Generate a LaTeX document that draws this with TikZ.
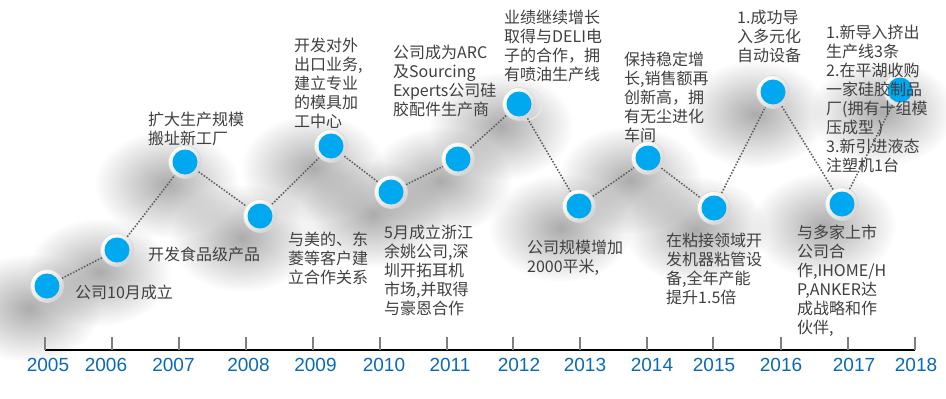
\documentclass[tikz,border=0pt]{standalone}
\usepackage{fontspec}
\newfontfamily\cjk{Noto Sans CJK SC}
\newfontfamily\yearfont{Liberation Sans}
\usetikzlibrary{fadings,calc}
\definecolor{dotc}{RGB}{90,90,90}
\definecolor{ballblue}{RGB}{0,168,240}
\definecolor{yearblue}{RGB}{10,105,185}
\definecolor{txt}{RGB}{64,64,64}
\definecolor{tickc}{RGB}{128,128,128}
\tikzfading[name=shfade, inner color=transparent!50, outer color=transparent!100]
\tikzset{
  ball/.style={circle, minimum size=33pt, inner sep=0pt, draw=gray!30, line width=0.6pt,
    top color=white, bottom color=gray!35, shading angle=45,
    path picture={\fill[ballblue] (path picture bounding box.center) circle[radius=12.5pt];}},
  dotline/.style={draw=dotc, line width=1.5pt, dash pattern=on 1.5pt off 1.6pt},
  lbl/.style={anchor=north west, inner sep=0pt, align=left, text=txt,
    font=\cjk\fontsize{16pt}{19pt}\selectfont},
  yr/.style={inner sep=0pt, text=yearblue, font=\yearfont\fontsize{19pt}{19pt}\selectfont},
  tickmark/.style={draw=tickc, line width=2pt},
  axisline/.style={draw=black, line width=1.2pt},
  ghost/.style={draw=gray!18, line width=1.2pt}
}
\begin{document}
\begin{tikzpicture}[x=1pt,y=-1pt]
\fill[white] (0,0) rectangle (946,399);
\useasboundingbox (0,0) rectangle (946,399);
% centres
\coordinate (p1) at (47,286);
\coordinate (p2) at (117,250);
\coordinate (p3) at (185,162);
\coordinate (p4) at (260,216);
\coordinate (p5) at (331,146);
\coordinate (p6) at (391,192);
\coordinate (p7) at (458,159);
\coordinate (p8) at (519,104);
\coordinate (p9) at (579,206);
\coordinate (p10) at (648,158);
\coordinate (p11) at (714,208);
\coordinate (p12) at (773,92);
\coordinate (p13) at (842,204);
\coordinate (p14) at (900,90);
% shadows
\foreach \i in {1,...,14}{
  \fill[black!65, path fading=shfade] ($(p\i)+(-18,22)$) ellipse [x radius=72, y radius=54];
}
% ghost ring beside the 2012 ball
\draw[ghost] ($(p8)+(7,0)$) circle (16);
% balls
\foreach \i in {1,...,14}{
  \node[ball] (c\i) at (p\i) {};
}
% connectors
\draw[dotline] (c1) -- (c2);
\draw[dotline] (c2) -- (c3);
\draw[dotline] (c3) -- (c4);
\draw[dotline] (c4) -- (c5);
\draw[dotline] (c5) -- (c6);
\draw[dotline] (c6) -- (c7);
\draw[dotline] (c7) -- (c8);
\draw[dotline] (c8) -- (c9);
\draw[dotline] (c9) -- (c10);
\draw[dotline] (c10) -- (c11);
\draw[dotline] (c11) -- (c12);
\draw[dotline] (c12) -- (c13);
\draw[dotline] (c13) -- (c14);
% axis
\draw[axisline] (45,350) -- (915,350);
\foreach \x in {45,112,179,246,313,380,447,513,580,647,713,781,848,915}{
  \draw[tickmark] (\x,337) -- (\x,350);
}
\node[yr] (y2005) at (48,365) {2005};
\node[yr] (y2006) at (106,365) {2006};
\node[yr] (y2007) at (173.5,365) {2007};
\node[yr] (y2008) at (248.5,365) {2008};
\node[yr] (y2009) at (315.5,365) {2009};
\node[yr] (y2010) at (384,365) {2010};
\node[yr] (y2011) at (450,365) {2011};
\node[yr] (y2012) at (519,365) {2012};
\node[yr] (y2013) at (585,365) {2013};
\node[yr] (y2014) at (652,365) {2014};
\node[yr] (y2015) at (714,365) {2015};
\node[yr] (y2016) at (781,365) {2016};
\node[yr] (y2017) at (854,365) {2017};
\node[yr] (y2018) at (916,365) {2018};
% labels
\node[lbl] (t1) at (75,285) {公司10月成立};
\node[lbl] (t2) at (148,247) {开发食品级产品};
\node[lbl] (t3) at (148,112) {扩大生产规模\\搬址新工厂};
\node[lbl] (t4) at (288,232) {与美的、东\\菱等客户建\\立合作关系};
\node[lbl] (t5) at (294,38) {开发对外\\出口业务,\\建立专业\\的模具加\\工中心};
\node[lbl] (t6) at (393,45) {公司成为ARC\\及Sourcing\\Experts公司硅\\胶配件生产商};
\node[lbl] (t7) at (504,10) {业绩继续增长\\取得与DELI电\\子的合作，拥\\有喷油生产线};
\node[lbl] (t8) at (384,225) {5月成立浙江\\余姚公司,深\\圳开拓耳机\\市场,并取得\\与豪恩合作};
\node[lbl] (t9) at (527,240) {公司规模增加\\2000平米,};
\node[lbl] (t10) at (624,52) {保持稳定增\\长,销售额再\\创新高，拥\\有无尘进化\\车间};
\node[lbl] (t11) at (737,10) {1.成功导\\入多元化\\自动设备};
\node[lbl] (t12) at (826,25) {1.新导入挤出\\生产线3条\\2.在平湖收购\\一家硅胶制品\\厂(拥有十组模\\压成型 )\\3.新引进液态\\注塑机1台};
\node[lbl] (t13) at (666,233) {在粘接领域开\\发机器粘管设\\备,全年产能\\提升1.5倍};
\node[lbl] (t14) at (797,225) {与多家上市\\公司合\\作,IHOME/H\\P,ANKER达\\成战略和作\\伙伴,};
\end{tikzpicture}
\end{document}
